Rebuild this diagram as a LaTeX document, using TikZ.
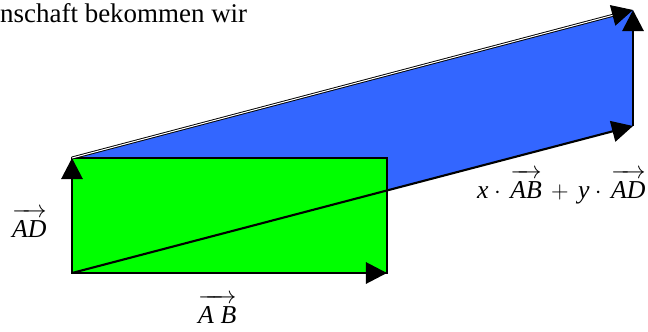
\documentclass[tikz,border=0pt]{standalone}
\usepackage{fontspec}
\setmainfont{Liberation Serif}
\usetikzlibrary{arrows.meta}
\definecolor{parblue}{RGB}{51,102,255}
\definecolor{rectgreen}{RGB}{0,255,0}
\newcommand{\vecof}[1]{\overrightarrow{\rule{0pt}{0.8em}\textit{#1}}}

\begin{document}
\begin{tikzpicture}[x=0.03cm,y=-0.03cm,
  vec/.style={-{Triangle[length=18pt,width=18pt]},line width=2.5pt},
  lbl/.style={inner sep=0pt,anchor=base west,font=\fontsize{22}{26}\selectfont}]
  \useasboundingbox (0,0) rectangle (648,331);
  \coordinate (orig) at (72,273);
  \coordinate (ab) at (387,273);
  \coordinate (ad) at (72,158);
  \coordinate (corner) at (387,158);
  \coordinate (sum) at (633,126);
  \coordinate (top) at (633,10);

  \fill[parblue] (orig) -- (sum) -- (top) -- (ad) -- cycle;
  \draw[fill=rectgreen,line width=1.5pt] (orig) rectangle (corner);

  \draw[-{Triangle[length=18pt,width=18pt]},line width=1.8pt] (orig) -- (sum);
  \draw[vec] (orig) -- (ab);
  \draw[vec] (orig) -- (ad);
  \draw[vec] (sum) -- (top);
  \draw[-{Triangle[length=18pt,width=18pt]},double,double distance=0.9pt,line width=0.8pt] (ad) -- (top);

  \node[lbl,font=\fontsize{23}{27}\selectfont] (intro) at (0,22) {nschaft bekommen wir};
  \node[lbl] (labad) at (12,237) {$\vecof{AD}$};
  \node[lbl] (labab) at (198,323) {$\overrightarrow{\rule{0pt}{0.8em}\textit{A}\;\textit{B}}$};
  \node[lbl] (labsum) at (477,198) {$\textit{x}\cdot\,\vecof{AB}\,+\,\textit{y}\cdot\,\vecof{AD}$};
\end{tikzpicture}
\end{document}
